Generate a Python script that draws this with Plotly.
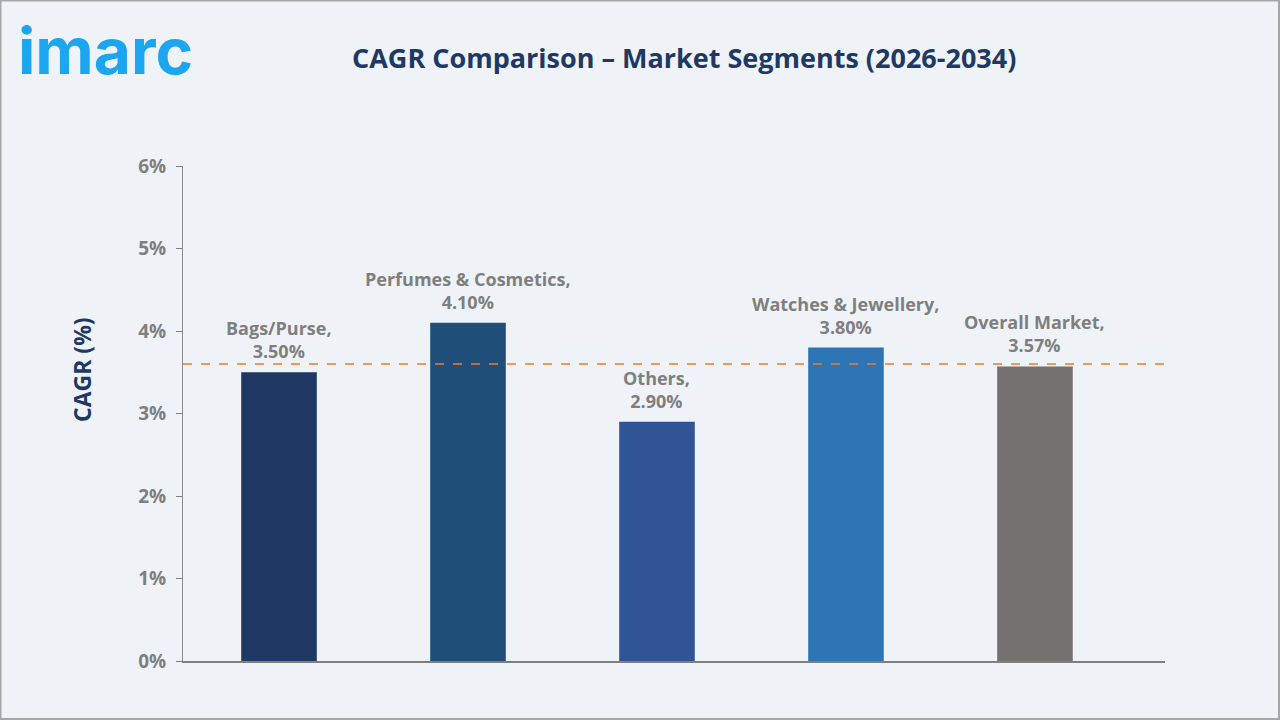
import plotly.graph_objects as go

categories = ["Bags/Purse", "Perfumes & Cosmetics", "Others", "Watches & Jewellery", "Overall Market"]
cagr_values = [3.50, 4.10, 2.90, 3.80, 3.57]
bar_colors = ["#203864", "#1f4e79", "#2f5597", "#2e75b6", "#767171"]
reference_line = 3.6
y_ticks = [0, 1, 2, 3, 4, 5, 6]
y_tick_labels = ["0%", "1%", "2%", "3%", "4%", "5%", "6%"]

W, H = 1280, 720
L, R, T, B = 183, 115, 166, 59
pw, ph = W - L - R, H - T - B

fig = go.Figure()
fig.add_trace(go.Bar(
    x=categories, y=cagr_values, width=0.40,
    marker=dict(color=bar_colors, line=dict(width=0)),
    hoverinfo="skip", showlegend=False,
))

for c, v in zip(categories, cagr_values):
    fig.add_annotation(
        x=c, y=v, xref="x", yref="y", text=f"{c},<br>{v:.2f}%", showarrow=False,
        yanchor="bottom", yshift=7,
        font=dict(family="Open Sans", size=18, color="#7f7f7f", weight="bold"),
        align="center",
    )

fig.add_shape(type="line", xref="paper", yref="y", x0=0, x1=(1170 - L) / pw,
              y0=reference_line, y1=reference_line,
              line=dict(color="#ed7d31", width=1.5, dash="dash"))

# outer frame
fig.add_shape(type="rect", xref="paper", yref="paper",
              x0=(-L + 0.5) / pw, x1=(W - L - 1) / pw,
              y0=(-B + 1) / ph, y1=1 + (T - 0.5) / ph,
              line=dict(color="#a6a6a6", width=2), layer="below")

fig.add_annotation(
    xref="paper", yref="paper", x=(684 - L) / pw, y=1 + (T - 58) / ph,
    text="CAGR Comparison – Market Segments (2026-2034)", showarrow=False,
    xanchor="center", yanchor="middle",
    font=dict(family="Open Sans", size=27, color="#203864", weight="bold"),
)
fig.add_annotation(
    xref="paper", yref="paper", x=(16 - L) / pw, y=1 + (T - 50) / ph,
    text="imarc", showarrow=False, xanchor="left", yanchor="middle",
    font=dict(family="Inter", size=64, color="#1ba6ef", weight="bold"),
)
fig.add_annotation(
    xref="paper", yref="paper", x=(82 - L) / pw, y=(H - B - 370) / ph,
    text="CAGR (%)", showarrow=False, textangle=-90,
    xanchor="center", yanchor="middle",
    font=dict(family="Open Sans", size=23, color="#203864", weight="bold"),
)

fig.update_layout(
    width=W, height=H,
    margin=dict(l=L, r=R, t=T, b=B, pad=0),
    paper_bgcolor="#eff3f8", plot_bgcolor="#eff3f8",
    font=dict(family="Open Sans"),
    xaxis=dict(range=[-0.508, 4.688], showticklabels=False, ticks="", showgrid=False,
               showline=True, linecolor="#7f7f7f", linewidth=1.5, zeroline=False,
               fixedrange=True),
    yaxis=dict(range=[0, 6], tickvals=y_ticks, ticktext=y_tick_labels,
               showgrid=False, showline=True, linecolor="#8c8c8c", linewidth=1,
               ticks="outside", ticklen=6, tickcolor="#7f7f7f", zeroline=False,
               tickfont=dict(family="Open Sans", size=19, color="#7f7f7f", weight="bold"),
               ticklabelstandoff=6),
)

fig.write_html("out.html")
